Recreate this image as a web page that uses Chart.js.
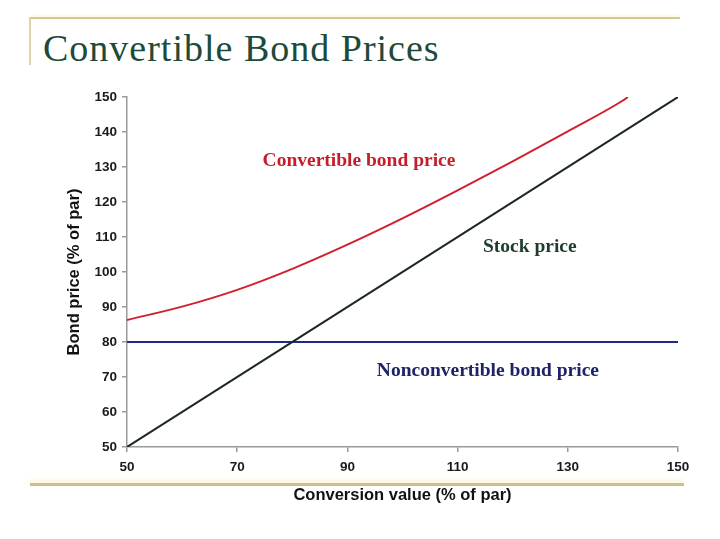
<!DOCTYPE html>
<html>
<head>
<meta charset="utf-8">
<title>Convertible Bond Prices</title>
<script src="https://cdn.jsdelivr.net/npm/chart.js@4.4.1/dist/chart.umd.min.js"></script>
<style>
  body { margin: 0; background: #fff; overflow: hidden; }
  .page { position: relative; width: 720px; height: 539px; }
  .rule-top { position: absolute; left: 30px; top: 17px; width: 650px; height: 2px; background: #cfc992; box-shadow: 0 -2px 3px #fbf6dc; }
  .rule-left { position: absolute; left: 29px; top: 17px; width: 2px; height: 48px; background: #ddd6a8; }
  .rule-bottom { position: absolute; left: 30px; top: 483px; width: 654px; height: 3px; background: #cdbf8e; box-shadow: 0 -3px 4px #fdf1cc; }
  .title {
    position: absolute; left: 43px; top: 29px;
    font-family: "Liberation Serif", "DejaVu Serif", serif;
    font-size: 38px; line-height: 38px; letter-spacing: 1px;
    color: #1d4a3a; white-space: nowrap;
  }
  .chart-box { position: absolute; left: 0; top: 0; width: 720px; height: 539px; }
</style>
</head>
<body>
<div class="page">
  <div class="rule-top"></div>
  <div class="rule-left"></div>
  <div class="title">Convertible Bond Prices</div>
  <div class="rule-bottom"></div>
  <div class="chart-box"><canvas id="bond-chart"></canvas></div>
</div>
<script>
// Values (% of par)
const conversionValues = [50, 60, 70, 80, 90, 100, 110, 120, 130, 140, 140.9];
const convertiblePrices = [86.3, 90.1, 94.9, 100.9, 107.8, 115.3, 123.3, 131.6, 140.2, 149.0, 150];

const stockX = [50, 150];
const stockPrices = [50, 150];

const straightX = [50, 150];
const straightPrices = [80, 80];

const xTicks = [50, 70, 90, 110, 130, 150];
const yTicks = [50, 60, 70, 80, 90, 100, 110, 120, 130, 140, 150];

const seriesNames = ['Convertible bond price', 'Stock price', 'Nonconvertible bond price'];

function toPoints(xs, ys) {
  return xs.map((x, i) => ({ x: x, y: ys[i] }));
}

// Text labels that sit inside the plot, anchored in data units
const curveLabels = [
  { text: seriesNames[0], x: 92.1, y: 131.7, color: '#c41e2a' },
  { text: seriesNames[1], x: 123.1, y: 107.1, color: '#1f3d2c' },
  { text: seriesNames[2], x: 115.5, y: 71.7, color: '#1e2466' }
];

const curveLabelPlugin = {
  id: 'curveLabels',
  afterDatasetsDraw(chart) {
    const ctx = chart.ctx;
    const xs = chart.scales.x;
    const ys = chart.scales.y;
    ctx.save();
    ctx.font = 'bold 19.5px "Liberation Serif", "DejaVu Serif", serif';
    ctx.textAlign = 'center';
    ctx.textBaseline = 'middle';
    curveLabels.forEach(label => {
      ctx.fillStyle = label.color;
      ctx.fillText(label.text, xs.getPixelForValue(label.x), ys.getPixelForValue(label.y));
    });
    ctx.restore();
  }
};

const axisColor = '#9a9a9a';
const tickFont = { family: '"Liberation Sans", Arial, sans-serif', size: 13.5, weight: 'bold' };
const titleFont = { family: '"Liberation Sans", Arial, sans-serif', size: 16.5, weight: 'bold' };

const ctx = document.getElementById('bond-chart').getContext('2d');
new Chart(ctx, {
  type: 'line',
  data: {
    datasets: [
      {
        label: seriesNames[0],
        data: toPoints(conversionValues, convertiblePrices),
        borderColor: '#d0202e',
        borderWidth: 2,
        pointRadius: 0,
        cubicInterpolationMode: 'monotone'
      },
      {
        label: seriesNames[1],
        data: toPoints(stockX, stockPrices),
        borderColor: '#1c2a1e',
        borderWidth: 2,
        pointRadius: 0
      },
      {
        label: seriesNames[2],
        data: toPoints(straightX, straightPrices),
        borderColor: '#1b2a8c',
        borderWidth: 2,
        pointRadius: 0
      }
    ]
  },
  options: {
    responsive: true,
    maintainAspectRatio: false,
    animation: false,
    layout: { padding: { left: 60, right: 42, top: 97, bottom: 34 } },
    plugins: {
      legend: { display: false },
      tooltip: { enabled: false }
    },
    scales: {
      x: {
        type: 'linear',
        min: 50,
        max: 150,
        afterBuildTicks: scale => { scale.ticks = xTicks.map(v => ({ value: v })); },
        afterFit: scale => { scale.height = 58; },
        ticks: { font: tickFont, color: '#1a1a1a', padding: 7, maxRotation: 0 },
        grid: { drawOnChartArea: false, drawTicks: true, tickLength: 5, color: axisColor, lineWidth: 1.5 },
        border: { display: true, color: axisColor, width: 1.5 },
        title: { display: true, text: 'Conversion value (% of par)', font: titleFont, color: '#111', padding: { top: 0, bottom: 0 } }
      },
      y: {
        type: 'linear',
        min: 50,
        max: 150,
        afterBuildTicks: scale => { scale.ticks = yTicks.map(v => ({ value: v })); },
        afterFit: scale => { scale.width = 67; },
        ticks: { font: tickFont, color: '#1a1a1a', padding: 5 },
        grid: { drawOnChartArea: false, drawTicks: true, tickLength: 5, color: axisColor, lineWidth: 1.5 },
        border: { display: true, color: axisColor, width: 1.5 },
        title: { display: true, text: 'Bond price (% of par)', font: titleFont, color: '#111', padding: { top: 5, bottom: 0 } }
      }
    }
  },
  plugins: [curveLabelPlugin]
});
</script>
</body>
</html>
